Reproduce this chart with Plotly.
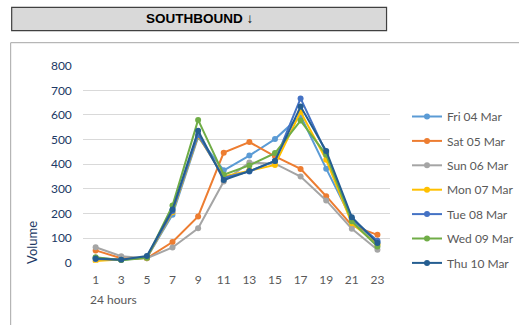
import plotly.graph_objects as go

hours = ["1", "3", "5", "7", "9", "11", "13", "15", "17", "19", "21", "23"]
series_names = ["Fri 04 Mar", "Sat 05 Mar", "Sun 06 Mar", "Mon 07 Mar", "Tue 08 Mar", "Wed 09 Mar", "Thu 10 Mar"]
fri = [20, 12, 20, 195, 510, 375, 435, 502, 597, 382, 175, 84]
sat = [50, 18, 18, 84, 188, 447, 490, 432, 381, 270, 151, 113]
sun = [63, 26, 18, 62, 140, 330, 407, 402, 350, 253, 138, 53]
mon = [7, 12, 20, 205, 515, 350, 375, 397, 613, 418, 160, 74]
tue = [15, 12, 22, 210, 520, 345, 370, 413, 667, 445, 178, 89]
wed = [22, 10, 20, 232, 580, 357, 395, 445, 577, 438, 168, 66]
thu = [17, 12, 27, 216, 536, 336, 372, 413, 634, 454, 185, 80]
y_ticks = [0, 100, 200, 300, 400, 500, 600, 700, 800]

colors = ["#5B9BD5", "#ED7D31", "#A5A5A5", "#FFC000", "#4472C4", "#70AD47", "#255E91"]
all_series = [fri, sat, sun, mon, tue, wed, thu]

W, H = 519, 325
FONT = "Lato"

fig = go.Figure()
for i, (name, vals, col) in enumerate(zip(series_names, all_series, colors)):
    fig.add_trace(go.Scatter(
        x=hours, y=vals, name=name, mode="lines+markers",
        line=dict(color=col, width=2),
        marker=dict(color=col, size=6, symbol="circle"),
        legendgroup=f"g{i}",
    ))

def px_x(p):
    return p / W

def px_y(p):
    return 1 - p / H

fig.update_layout(
    width=W, height=H,
    margin=dict(l=0, r=0, t=0, b=0),
    paper_bgcolor="white", plot_bgcolor="white",
    template="none",
    font=dict(family=FONT, size=12, color="#595959"),
    showlegend=True,
    legend=dict(
        x=px_x(408), y=px_y(102), xref="paper", yref="paper",
        xanchor="left", yanchor="top",
        font=dict(family=FONT, size=12, color="#595959"),
        tracegroupgap=5.4, bgcolor="rgba(0,0,0,0)", borderwidth=0,
    ),
    xaxis=dict(
        domain=[px_x(83), px_x(391)],
        type="category", range=[-0.5, 11.5],
        showgrid=False, zeroline=False, showline=False,
        ticks="", tickfont=dict(family=FONT, size=12, color="#595959"),
        ticklabelstandoff=8, automargin=False,
    ),
    yaxis=dict(
        domain=[px_y(262.7), px_y(65.7)],
        range=[0, 800], tickvals=y_ticks,
        showgrid=True, gridcolor="#D9D9D9", gridwidth=1,
        zeroline=False, showline=False, ticks="",
        tickfont=dict(family=FONT, size=12, color="#203864"),
        ticklabelstandoff=10, automargin=False,
    ),
    shapes=[
        dict(type="rect", xref="paper", yref="paper",
             x0=px_x(10.7), x1=px_x(540), y0=px_y(345), y1=px_y(42.7),
             line=dict(color="#A6A6A6", width=1), fillcolor="rgba(0,0,0,0)", layer="below"),
        dict(type="rect", xref="paper", yref="paper",
             x0=px_x(11.7), x1=px_x(387.3), y0=px_y(30.7), y1=px_y(7.3),
             line=dict(color="#404040", width=1.2), fillcolor="#D9D9D9", layer="below"),
    ],
    annotations=[
        dict(text="<b>SOUTHBOUND ↓</b>", xref="paper", yref="paper",
             x=px_x(200), y=px_y(19), xanchor="center", yanchor="middle",
             showarrow=False, font=dict(family="Liberation Sans", size=13.5, color="#000000")),
        dict(text="Volume", xref="paper", yref="paper",
             x=px_x(32), y=px_y(242), xanchor="center", yanchor="middle",
             textangle=-90, showarrow=False,
             font=dict(family=FONT, size=13, color="#203864")),
        dict(text="24 hours", xref="paper", yref="paper",
             x=px_x(88), y=px_y(299), xanchor="left", yanchor="middle",
             showarrow=False, font=dict(family=FONT, size=12, color="#595959")),
    ],
)

fig.write_html(
    "out.html",
    config={"displayModeBar": False, "staticPlot": True},
    post_script="document.body.style.margin='0';document.body.style.overflow='hidden';",
)
